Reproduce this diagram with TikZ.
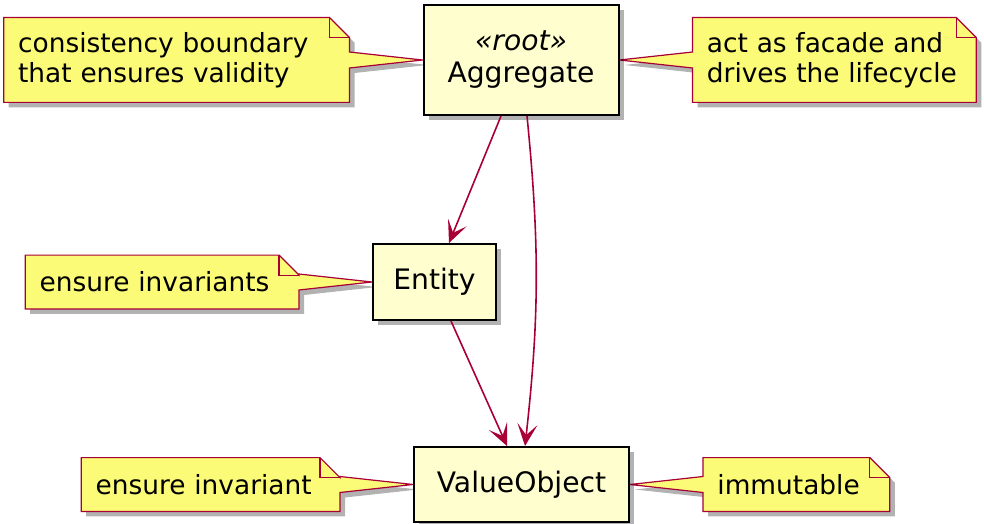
\documentclass[tikz,border=0pt]{standalone}
\usepackage{fontspec}
\setmainfont{DejaVu Sans}
\usetikzlibrary{arrows.meta, shapes, positioning, backgrounds, shadows, calc}
\definecolor{classfill}{HTML}{FEFECE}
\definecolor{notefill}{HTML}{FBFB77}
\definecolor{umlred}{HTML}{A80036}

\begin{document}
\begin{tikzpicture}[x=0.5pt, y=-0.5pt, node distance=36.5pt,
classnode/.style={rectangle, draw=black, fill=classfill, line width=1pt, align=center, inner sep=0pt, font=\fontsize{14.1}{16}\selectfont, drop shadow={shadow xshift=2.5pt, shadow yshift=-2.5pt, opacity=0.3, fill=black}},
notenode/.style={rectangle, inner xsep=7pt, inner ysep=0pt, align=left, font=\fontsize{13.2}{15}\selectfont},
notebody/.style={draw=umlred, fill=notefill, line width=0.6pt, drop shadow={shadow xshift=2.5pt, shadow yshift=-2.5pt, opacity=0.3, fill=black}},
notefold/.style={draw=umlred, line width=0.6pt},
link/.style={draw=umlred, line width=0.8pt, -{Stealth[length=11pt, width=10pt, inset=5.5pt]}},
]
\useasboundingbox (0,0) rectangle (984,524);
%Nodes
\node[classnode, minimum width=97.5pt, minimum height=55pt]   (aggregate)   at (521,60)      {\textit{«root»}\\Aggregate};
\node[classnode, minimum width=61.5pt, minimum height=38pt]   (entity)      at (434.5,282)   {Entity};
\node[classnode, minimum width=107.5pt, minimum height=37.5pt] (valueobject) at (521.5,484.5) {ValueObject};

\node[notenode, text width=158.5pt, minimum height=42pt]   (consistency) [left=of aggregate]    {consistency boundary\\that ensures validity};
\node[notenode, text width=127.5pt, minimum height=42pt]   (facade)      [right=of aggregate]   {act as facade and\\drives the lifecycle};
\node[notenode, text width=122.5pt, minimum height=26.5pt] (invariants)  [left=of entity]       {ensure invariants};
\node[notenode, text width=115pt, minimum height=26.5pt]   (invariant)   [left=of valueobject]  {ensure invariant};
\node[notenode, text width=79pt, minimum height=26.5pt]    (immutable)   [right=of valueobject] {immutable};

%Notes
\begin{scope}[on background layer]
\foreach \nd/\tg in {consistency/aggregate.west, invariants/entity.west, invariant/valueobject.west}
  \draw[notebody] (\nd.north west) -- ([xshift=-10pt]\nd.north east) -- ([yshift=-10pt]\nd.north east)
    -- ($(\nd.east |- \tg)+(0,4pt)$) -- (\tg) -- ($(\nd.east |- \tg)+(0,-4pt)$)
    -- (\nd.south east) -- (\nd.south west) -- cycle;
\foreach \nd/\tg in {facade/aggregate.east, immutable/valueobject.east}
  \draw[notebody] (\nd.north west) -- ([xshift=-10pt]\nd.north east) -- ([yshift=-10pt]\nd.north east)
    -- (\nd.south east) -- (\nd.south west)
    -- ($(\nd.west |- \tg)+(0,-4pt)$) -- (\tg) -- ($(\nd.west |- \tg)+(0,4pt)$) -- cycle;
\foreach \nd in {consistency, facade, invariants, invariant, immutable}
  \draw[notefold] ([xshift=-10pt]\nd.north east) |- ([yshift=-10pt]\nd.north east);
\end{scope}

%Lines
\draw[link] ([xshift=-10pt]aggregate.south) -- ([xshift=7.25pt]entity.north);
\draw[link] ([xshift=3pt]aggregate.south) to[bend left=6] ([xshift=1.75pt]valueobject.north);
\draw[link] ([xshift=8.25pt]entity.south) -- ([xshift=-7.25pt]valueobject.north);

\end{tikzpicture}
\end{document}
